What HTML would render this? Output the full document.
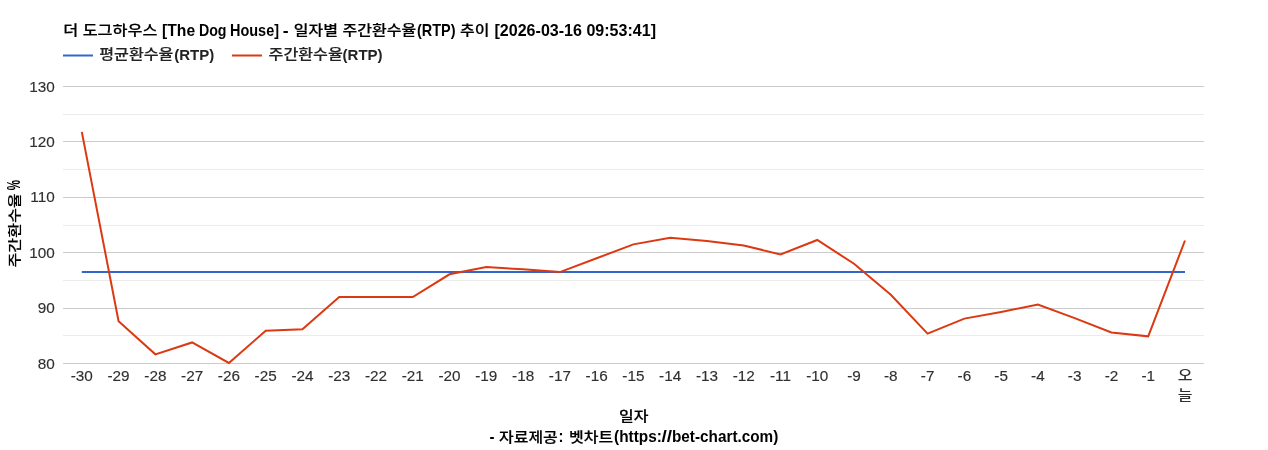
<!DOCTYPE html>
<html lang="ko"><head><meta charset="utf-8"><title>RTP chart</title>
<style>html,body{margin:0;padding:0;background:#fff;}body{width:1268px;height:450px;overflow:hidden;}svg{display:block;will-change:transform;}text{font-family:"Liberation Sans", "Noto Sans CJK KR", sans-serif;font-size:16px;}.ax{fill:#303030;font-size:15.3px;stroke:#303030;stroke-width:.15px;}.b{font-weight:bold;fill:#000;font-size:15px;}.k{font-weight:500;fill:#000;stroke:#000;stroke-width:.2px;}.lb{font-weight:bold;fill:#222;font-size:15px;}.lk{font-weight:500;fill:#222;stroke:#222;stroke-width:.15px;}.axk{fill:#303030;font-weight:500;}</style></head><body>
<svg width="1268" height="450" viewBox="0 0 1268 450">
<rect width="1268" height="450" fill="#ffffff"/>
<text class="k" transform="translate(63.20,35.00) scale(1,0.860)" textLength="94.20" lengthAdjust="spacingAndGlyphs">더 도그하우스</text> <text class="b" transform="translate(162.10,35.70) scale(1,1.06)" textLength="33.00" lengthAdjust="spacingAndGlyphs">[The</text> <text class="b" transform="translate(198.90,35.70) scale(1,1.06)" textLength="27.60" lengthAdjust="spacingAndGlyphs">Dog</text> <text class="b" transform="translate(230.00,35.70) scale(1,1.06)" textLength="49.00" lengthAdjust="spacingAndGlyphs">House]</text> <text class="b" transform="translate(282.75,35.70) scale(1,1.06)" textLength="5.90" lengthAdjust="spacingAndGlyphs">-</text> <text class="k" transform="translate(293.80,35.00) scale(1,0.860)">일자별</text> <text class="k" transform="translate(342.60,35.00) scale(1,0.860)">주간환수율</text><text class="b" transform="translate(417.00,35.70) scale(1,1.06)" textLength="38.50" lengthAdjust="spacingAndGlyphs">(RTP)</text> <text class="k" transform="translate(460.10,35.00) scale(1,0.860)">추이</text> <text class="b" transform="translate(494.50,35.70) scale(1,1.06)" textLength="161.50" lengthAdjust="spacingAndGlyphs">[2026-03-16 09:53:41]</text>
<path d="M63,55.5H93" stroke="#3366cc" stroke-width="2" fill="none"/>
<text class="lk" transform="translate(99.20,59.00) scale(1,0.860)" textLength="74.20" lengthAdjust="spacingAndGlyphs">평균환수율</text><text class="lb" x="174.30" y="60.00">(RTP)</text>
<path d="M232,55.5H262" stroke="#dc3912" stroke-width="2" fill="none"/>
<text class="lk" transform="translate(268.60,59.00) scale(1,0.860)" textLength="74.20" lengthAdjust="spacingAndGlyphs">주간환수율</text><text class="lb" x="342.60" y="60.00">(RTP)</text>
<rect x="63" y="86" width="1141" height="1" fill="#cccccc"/>
<rect x="63" y="141" width="1141" height="1" fill="#cccccc"/>
<rect x="63" y="197" width="1141" height="1" fill="#cccccc"/>
<rect x="63" y="252" width="1141" height="1" fill="#cccccc"/>
<rect x="63" y="308" width="1141" height="1" fill="#cccccc"/>
<rect x="63" y="363" width="1141" height="1" fill="#cccccc"/>
<rect x="63" y="114" width="1141" height="1" fill="#ebebeb"/>
<rect x="63" y="169" width="1141" height="1" fill="#ebebeb"/>
<rect x="63" y="225" width="1141" height="1" fill="#ebebeb"/>
<rect x="63" y="280" width="1141" height="1" fill="#ebebeb"/>
<rect x="63" y="335" width="1141" height="1" fill="#ebebeb"/>
<text class="ax" transform="translate(54.70,91.70) scale(1,1.000)" text-anchor="end">130</text>
<text class="ax" transform="translate(54.70,146.70) scale(1,1.000)" text-anchor="end">120</text>
<text class="ax" transform="translate(54.70,201.70) scale(1,1.000)" text-anchor="end">110</text>
<text class="ax" transform="translate(54.70,257.70) scale(1,1.000)" text-anchor="end">100</text>
<text class="ax" transform="translate(54.70,312.70) scale(1,1.000)" text-anchor="end">90</text>
<text class="ax" transform="translate(54.70,368.70) scale(1,1.000)" text-anchor="end">80</text>
<text class="ax" transform="translate(81.80,380.70) scale(1,1.000)" text-anchor="middle">-30</text>
<text class="ax" transform="translate(118.57,380.70) scale(1,1.000)" text-anchor="middle">-29</text>
<text class="ax" transform="translate(155.35,380.70) scale(1,1.000)" text-anchor="middle">-28</text>
<text class="ax" transform="translate(192.12,380.70) scale(1,1.000)" text-anchor="middle">-27</text>
<text class="ax" transform="translate(228.89,380.70) scale(1,1.000)" text-anchor="middle">-26</text>
<text class="ax" transform="translate(265.67,380.70) scale(1,1.000)" text-anchor="middle">-25</text>
<text class="ax" transform="translate(302.44,380.70) scale(1,1.000)" text-anchor="middle">-24</text>
<text class="ax" transform="translate(339.21,380.70) scale(1,1.000)" text-anchor="middle">-23</text>
<text class="ax" transform="translate(375.98,380.70) scale(1,1.000)" text-anchor="middle">-22</text>
<text class="ax" transform="translate(412.76,380.70) scale(1,1.000)" text-anchor="middle">-21</text>
<text class="ax" transform="translate(449.53,380.70) scale(1,1.000)" text-anchor="middle">-20</text>
<text class="ax" transform="translate(486.30,380.70) scale(1,1.000)" text-anchor="middle">-19</text>
<text class="ax" transform="translate(523.08,380.70) scale(1,1.000)" text-anchor="middle">-18</text>
<text class="ax" transform="translate(559.85,380.70) scale(1,1.000)" text-anchor="middle">-17</text>
<text class="ax" transform="translate(596.62,380.70) scale(1,1.000)" text-anchor="middle">-16</text>
<text class="ax" transform="translate(633.39,380.70) scale(1,1.000)" text-anchor="middle">-15</text>
<text class="ax" transform="translate(670.17,380.70) scale(1,1.000)" text-anchor="middle">-14</text>
<text class="ax" transform="translate(706.94,380.70) scale(1,1.000)" text-anchor="middle">-13</text>
<text class="ax" transform="translate(743.71,380.70) scale(1,1.000)" text-anchor="middle">-12</text>
<text class="ax" transform="translate(780.49,380.70) scale(1,1.000)" text-anchor="middle">-11</text>
<text class="ax" transform="translate(817.26,380.70) scale(1,1.000)" text-anchor="middle">-10</text>
<text class="ax" transform="translate(854.03,380.70) scale(1,1.000)" text-anchor="middle">-9</text>
<text class="ax" transform="translate(890.81,380.70) scale(1,1.000)" text-anchor="middle">-8</text>
<text class="ax" transform="translate(927.58,380.70) scale(1,1.000)" text-anchor="middle">-7</text>
<text class="ax" transform="translate(964.35,380.70) scale(1,1.000)" text-anchor="middle">-6</text>
<text class="ax" transform="translate(1001.12,380.70) scale(1,1.000)" text-anchor="middle">-5</text>
<text class="ax" transform="translate(1037.90,380.70) scale(1,1.000)" text-anchor="middle">-4</text>
<text class="ax" transform="translate(1074.67,380.70) scale(1,1.000)" text-anchor="middle">-3</text>
<text class="ax" transform="translate(1111.44,380.70) scale(1,1.000)" text-anchor="middle">-2</text>
<text class="ax" transform="translate(1148.22,380.70) scale(1,1.000)" text-anchor="middle">-1</text>
<text class="axk" transform="translate(1185.09,380.00) scale(1,0.820)" text-anchor="middle">오</text><text class="axk" transform="translate(1185.09,400.00) scale(1,0.820)" text-anchor="middle">늘</text>
<path d="M81.80,272.09L1184.99,272.09" stroke="#3366cc" stroke-width="2" fill="none"/>
<path d="M81.80,131.93L118.57,321.12L155.35,354.36L192.12,342.45L228.89,362.95L265.67,330.81L302.44,329.15L339.21,297.02L375.98,297.02L412.76,297.02L449.53,274.31L486.30,267.10L523.08,269.32L559.85,272.09L596.62,258.24L633.39,244.39L670.17,237.74L706.94,241.07L743.71,245.50L780.49,254.36L817.26,239.96L854.03,263.78L890.81,294.80L927.58,333.58L964.35,318.63L1001.12,311.98L1037.90,304.50L1074.67,318.07L1111.44,332.48L1148.22,336.35L1184.99,240.51" stroke="#dc3912" stroke-width="2" fill="none"/>
<text class="k" transform="translate(633.80,421.00) scale(1,0.860)" text-anchor="middle">일자</text>
<text class="b" transform="translate(489.50,442.20) scale(1,1.06)">-</text> <text class="k" transform="translate(499.00,441.50) scale(1,0.860)">자료제공</text><text class="b" transform="translate(558.50,442.20) scale(1,1.06)">:</text> <text class="k" transform="translate(569.00,441.50) scale(1,0.860)">벳차트</text><text class="b" transform="translate(614.10,442.20) scale(1,1.06)" textLength="47.80" lengthAdjust="spacingAndGlyphs">(https:</text><text class="b" transform="translate(661.50,442.20) scale(1,1.06)" textLength="10.60" lengthAdjust="spacingAndGlyphs">//</text><text class="b" transform="translate(672.00,442.20) scale(1,1.06)" textLength="106.30" lengthAdjust="spacingAndGlyphs">bet-chart.com)</text>
<g transform="translate(19.5,223.5) rotate(-90)"><text class="k" transform="translate(-44.00,-0.60) scale(1,0.800)" textLength="74.20" lengthAdjust="spacingAndGlyphs">주간환수율</text> <text class="b" transform="translate(33.30,0.30) scale(1,1.06)" textLength="10.30" lengthAdjust="spacingAndGlyphs" style="font-size:17px">%</text></g>
</svg></body></html>
